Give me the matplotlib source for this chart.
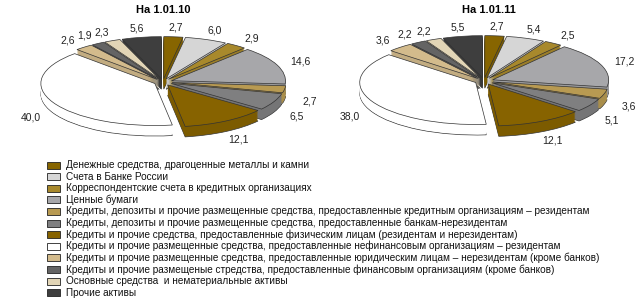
import numpy as np
import matplotlib.pyplot as plt
from matplotlib.patches import Wedge, Rectangle
import matplotlib.colors as mcolors

plt.rcParams['font.family'] = ['Liberation Sans', 'DejaVu Sans']

# legend / category names, in the order the slices go round (clockwise from 12 o'clock)
categories = [
    "Денежные средства, драгоценные металлы и камни",
    "Счета в Банке России",
    "Корреспондентские счета в кредитных организациях",
    "Ценные бумаги",
    "Кредиты, депозиты и прочие размещенные средства, предоставленные кредитным организациям – резидентам",
    "Кредиты, депозиты и прочие размещенные средства, предоставленные банкам-нерезидентам",
    "Кредиты и прочие средства, предоставленные физическим лицам (резидентам и нерезидентам)",
    "Кредиты и прочие размещенные средства, предоставленные нефинансовым организациям – резидентам",
    "Кредиты и прочие размещенные средства, предоставленные юридическим лицам – нерезидентам (кроме банков)",
    "Кредиты и прочие размещеные стредства, предоставленные финансовым организациям (кроме банков)",
    "Основные средства  и нематериальные активы",
    "Прочие активы",
]
values_2010 = [2.7, 6.0, 2.9, 14.6, 2.7, 6.5, 12.1, 40.0, 2.6, 1.9, 2.3, 5.6]
values_2011 = [2.7, 5.4, 2.5, 17.2, 3.6, 5.1, 12.1, 38.0, 3.6, 2.2, 2.2, 5.5]
titles = ["На 1.01.10", "На 1.01.11"]

colors = ["#876500", "#d6d6d6", "#a8892c", "#a7a7aa", "#b89a52", "#7f7f80",
          "#876300", "#ffffff", "#d3bb8c", "#646464", "#e2d5b6", "#3e3e3e"]

W, H = 642, 300
fig = plt.figure(figsize=(6.42, 3.0), dpi=100)


def make_axes(cx, cy, sx, sy, xr=1.6, ytop=1.6, ybot=2.0):
    # put data (0,0) at pixel (cx, cy) counted from the top-left corner
    left = cx - xr * sx
    top = cy - ytop * sy
    width = 2 * xr * sx
    height = (ytop + ybot) * sy
    ax = fig.add_axes([left / W, 1 - (top + height) / H, width / W, height / H])
    ax.set_xlim(-xr, xr)
    ax.set_ylim(-ybot, ytop)
    ax.axis('off')
    return ax


def side_colour(c, k=0.92):
    r, g, b = mcolors.to_rgb(c)
    if min(r, g, b) > 0.99:  # white slice keeps a white side
        return (1, 1, 1)
    return (r * k, g * k, b * k)


def draw_pie(ax, values, explode=0.08, depth=0.25, nlayers=14):
    fr = np.array(values) / sum(values)
    ends = np.cumsum(fr)
    starts = ends - fr
    depths = np.linspace(depth, 0, nlayers)
    for layer, d in enumerate(depths):
        for i in range(len(values)):
            t1 = 90 - 360 * ends[i]
            t2 = 90 - 360 * starts[i]
            mid = np.deg2rad((t1 + t2) / 2)
            ox = explode * np.cos(mid)
            oy = explode * np.sin(mid) - d
            if layer == nlayers - 1:
                fc, ec, lw, z = colors[i], "#333333", 0.5, 3
            elif layer == 0:
                fc, ec, lw, z = side_colour(colors[i]), "#333333", 0.5, 1
            else:
                fc, ec, lw, z = side_colour(colors[i]), "none", 0, 2
            ax.add_patch(Wedge((ox, oy), 1, t1, t2, facecolor=fc,
                               edgecolor=ec, linewidth=lw, zorder=z))
    # value labels
    for i, v in enumerate(values):
        mid = np.deg2rad(90 - 360 * (starts[i] + ends[i]) / 2)
        x = 1.3 * np.cos(mid)
        y = 1.3 * np.sin(mid)
        if y < 0:
            y -= depth
        ax.text(x, y, f"{v:.1f}".replace(".", ","), ha="center", va="center",
                fontsize=7.5, color="#222222")


ax1 = make_axes(163, 82, 114, 42)
draw_pie(ax1, values_2010)
ax2 = make_axes(484, 81, 116, 42)
draw_pie(ax2, values_2011)

fig.text(163 / W, 1 - 10 / H, titles[0], ha="center", va="center",
         fontsize=8, fontweight="bold")
fig.text(489 / W, 1 - 10 / H, titles[1], ha="center", va="center",
         fontsize=8, fontweight="bold")

# legend, drawn by hand in pixel positions
for i, (lab, c) in enumerate(zip(categories, colors)):
    y = 165 + i * 11.6
    fig.add_artist(Rectangle((47 / W, 1 - (y + 3.5) / H), 13 / W, 7 / H,
                             transform=fig.transFigure, facecolor=c,
                             edgecolor="#222222", linewidth=0.6))
    fig.text(66 / W, 1 - y / H, lab, ha="left", va="center", fontsize=7.2,
             color="#111111")

fig.savefig("out.png", dpi=100)
